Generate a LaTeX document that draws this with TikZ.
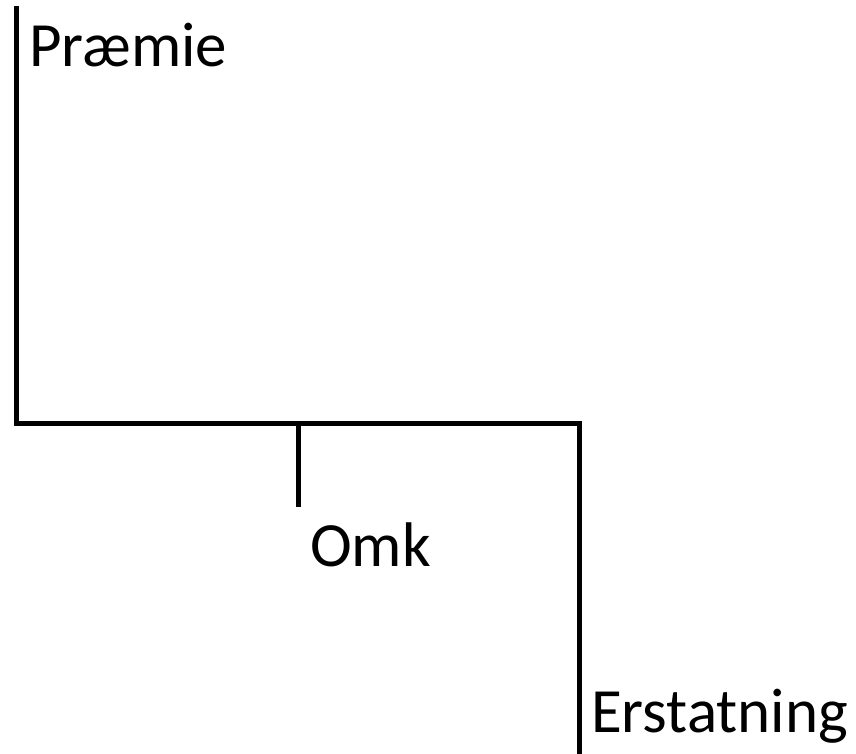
\documentclass[tikz,border=0pt]{standalone}
\usepackage{fontspec}
\setmainfont{Carlito}
\tikzset{
  bar/.style={line width=5pt, line cap=butt, line join=miter},
  lbl/.style={anchor=base west, inner sep=0pt, font=\fontsize{63}{75}\selectfont}
}
\begin{document}
\begin{tikzpicture}[x=1pt,y=-1pt]
\useasboundingbox (0,0) rectangle (856,754);
\coordinate (top) at (16,6);
\coordinate (cornerL) at (16,423);
\coordinate (cornerR) at (579.5,423);
\coordinate (bottom) at (579.5,760);
\coordinate (tickTop) at (298,423);
\coordinate (tickBot) at (298,507);
\draw[bar] (top) -- (cornerL) -- (cornerR) -- (bottom);
\draw[bar] (tickTop) -- (tickBot);
\node[lbl] (praemie) at (29,67) {Præmie};
\node[lbl] (omk) at (310,566) {Omk};
\node[lbl] (erstatning) at (591,732) {Erstatning};
\end{tikzpicture}
\end{document}
